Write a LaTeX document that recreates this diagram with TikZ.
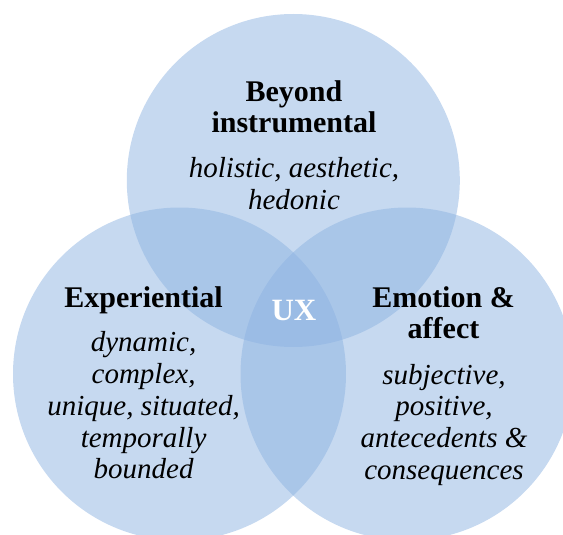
\documentclass[tikz,border=0pt]{standalone}
\usepackage{fontspec}
\setmainfont{Liberation Serif}
\definecolor{vennblue}{RGB}{141,179,225}
\tikzset{
  venn/.style={circle, minimum size=333pt, inner sep=0pt, fill=vennblue, fill opacity=0.5},
  head/.style={align=center, inner sep=0pt, font=\fontsize{30}{31}\selectfont\bfseries},
  desc/.style={align=center, inner sep=0pt, font=\fontsize{29}{31.8}\selectfont\itshape},
  core/.style={inner sep=0pt, text=white, font=\fontsize{31}{34}\selectfont\bfseries}
}
\begin{document}
\begin{tikzpicture}[x=1pt,y=-1pt]
  \useasboundingbox (0,0) rectangle (563,535);
  \clip (0,0) rectangle (563,535);
  % the three overlapping sets
  \node[venn] (top)   at (293.3,180.5) {};
  \node[venn] (left)  at (179.5,374)   {};
  \node[venn] (right) at (407,374)     {};
  % labels of each set
  \node[head] (topH)   at (294,106.5)   {Beyond\\instrumental};
  \node[desc] (topD)   at (294,183.5)   {holistic, aesthetic,\\hedonic};
  \node[head] (leftH)  at (143.6,300.5) {Experiential};
  \node[desc] (leftD)  at (143.6,405.4) {dynamic,\\complex,\\unique, situated,\\temporally\\bounded};
  \node[head] (rightH) at (443.5,312.5) {Emotion \&\\affect};
  \node[desc] (rightD) at (444,424.8)   {subjective,\\positive,\\antecedents \&\\consequences};
  % the common core
  \node[core] (ux) at (294,310.5) {UX};
\end{tikzpicture}
\end{document}
